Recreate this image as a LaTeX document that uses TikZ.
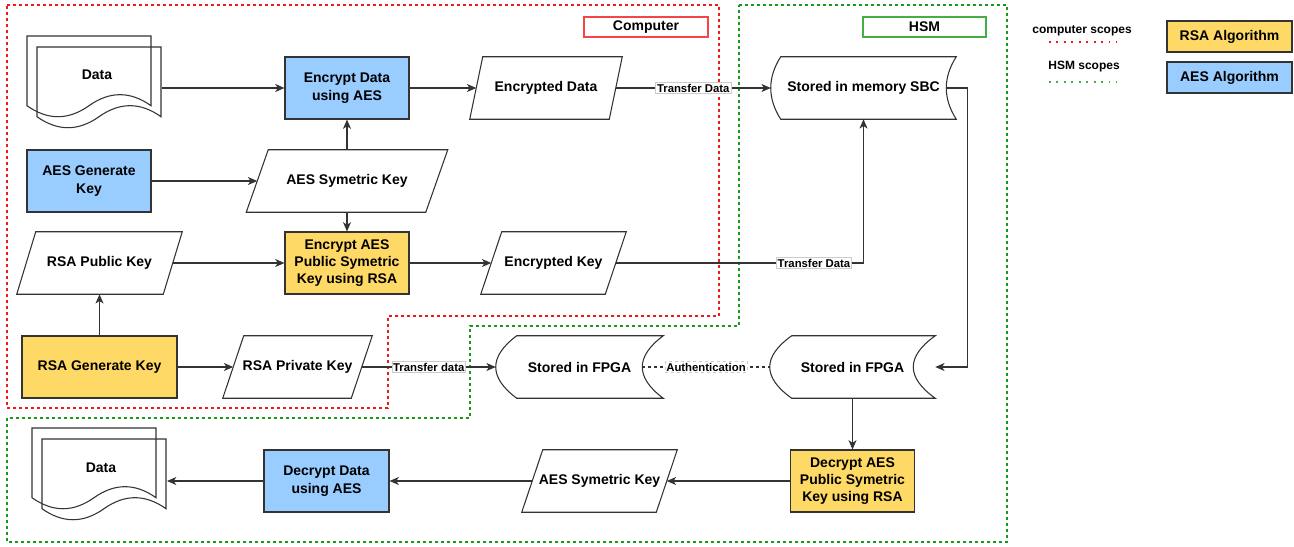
\documentclass[tikz,border=0pt]{standalone}
\usepackage{fontspec}
\setmainfont{Liberation Sans}
\usetikzlibrary{arrows.meta,calc}
\definecolor{aesblue}{HTML}{99CCFF}
\definecolor{rsagold}{HTML}{FFD966}
\definecolor{scopered}{HTML}{F01818}
\definecolor{scopegreen}{HTML}{189A18}
\tikzset{
	txt/.style={font=\bfseries\fontsize{10.5}{13}\selectfont, align=center},
	shapeline/.style={draw=black!80, line width=0.8pt},
	aesbox/.style={txt, shapeline, fill=aesblue, minimum width=93pt, minimum height=46.5pt, inner sep=2pt},
	rsabox/.style={aesbox, fill=rsagold},
	keybox/.style={txt, minimum height=46.5pt, inner sep=1pt},
	storebox/.style={txt, minimum height=46.5pt, inner sep=1pt},
	lbl/.style={fill=white, draw=black!20, line width=0.4pt, inner sep=1pt, font=\bfseries\fontsize{8.5}{10}\selectfont},
	arr/.style={-{Stealth[length=7pt,width=6pt,inset=2pt]}, draw=black!80, line width=0.8pt},
	docpage/.pic={\draw[shapeline] (0,0) -- (124,0) -- (124,69.7) .. controls (103.3,55) and (82.7,55) .. (62,69.7)
		.. controls (41.3,84.4) and (20.7,84.4) .. (0,69.7) -- cycle;}
}
\begin{document}
\begin{tikzpicture}[x=0.75pt,y=-0.75pt]
	\useasboundingbox (0,0) rectangle (1294,546);
	
	% scopes
	\draw[scopered, line width=0.85pt, dash pattern=on 2.25pt off 2.25pt] (7,5) -- (719,5) -- (719,316) -- (388,316)
	-- (388,408) -- (7,408) -- cycle;
	\draw[scopegreen, line width=0.85pt, dash pattern=on 2.25pt off 2.25pt] (739,5) -- (1007,5) -- (1007,542) -- (7,542)
	-- (7,418) -- (470,418) -- (470,326) -- (739,326) -- cycle;
	\node[txt, draw=scopered!80, line width=0.8pt, minimum width=93pt, minimum height=15pt, inner sep=1pt] (compLbl) at (646,27) {Computer};
	\node[txt, draw=scopegreen!80, line width=0.8pt, minimum width=92.25pt, minimum height=15pt, inner sep=1pt] (hsmLbl) at (924.5,27) {HSM};
	
	% documents
	\pic at (27,36) {docpage};
	\pic at (37,47) {docpage};
	\pic at (32,428) {docpage};
	\pic at (42,439) {docpage};
	\node[txt] (dataTop) at (97,75) {Data};
	\node[txt] (dataBot) at (101,468) {Data};
	\coordinate (dataOut) at (162,88);
	\coordinate (dataIn) at (167,481);
	
	% process boxes
	\node[aesbox] (encData) at (347,88) {Encrypt Data\\using AES};
	\node[aesbox] (aesGen) at (89,181) {AES Generate\\Key};
	\node[rsabox] (encKey) at (347,263) {Encrypt AES\\Public Symetric\\Key using RSA};
	\node[rsabox, minimum width=116.25pt] (rsaGen) at (99.5,367) {RSA Generate Key};
	\node[rsabox] (decKey) at (852.5,481) {Decrypt AES\\Public Symetric\\Key using RSA};
	\node[aesbox, minimum width=93.75pt] (decData) at (326.5,481) {Decrypt Data\\using AES};
	
	% data boxes
	\node[keybox, minimum width=134.25pt] (aesKey) at (347,181) {AES Symetric Key};
	\node[keybox, minimum width=104.25pt] (encOut) at (546,88) {Encrypted Data};
	\node[keybox, minimum width=109.5pt] (rsaPub) at (99.5,263) {RSA Public Key};
	\node[keybox, minimum width=96pt] (rsaPriv) at (297.5,367) {RSA Private Key};
	\node[keybox, minimum width=93pt] (encKeyOut) at (553.5,263) {Encrypted Key};
	\node[keybox, minimum width=100.5pt] (aesKey2) at (599.5,481) {AES Symetric Key};
	\foreach \n/\h in {aesKey/8.25pt, encOut/4.875pt, rsaPub/7.125pt, rsaPriv/7.875pt, encKeyOut/7.875pt, aesKey2/7.875pt}
	\draw[shapeline] ([xshift=\h]\n.north west) -- ([xshift=\h]\n.north east) -- ([xshift=-\h]\n.south east)
	-- ([xshift=-\h]\n.south west) -- cycle;
	
	% stored data
	\node[storebox, minimum width=138.75pt] (sbc) at (863.5,88) {Stored in memory SBC};
	\node[storebox, minimum width=125.25pt] (fpgaL) at (579.5,367) {Stored in FPGA};
	\node[storebox, minimum width=123.75pt] (fpgaR) at (852.5,367) {Stored in FPGA};
	\foreach \n/\s in {sbc/7.5pt, fpgaL/15.75pt, fpgaR/16.5pt}
	\draw[shapeline] ([xshift=\s]\n.north west) -- (\n.north east)
	.. controls ($(\n.north east)!2/3!([xshift=-2*\s]\n.east)$) and ($(\n.south east)!2/3!([xshift=-2*\s]\n.east)$) .. (\n.south east)
	-- ([xshift=\s]\n.south west)
	.. controls ($([xshift=\s]\n.south west)!2/3!([xshift=-\s]\n.west)$) and ($([xshift=\s]\n.north west)!2/3!([xshift=-\s]\n.west)$) .. ([xshift=\s]\n.north west) -- cycle;
	
	% connectors
	\draw[arr] (dataOut) -- (encData);
	\draw[arr] (encData) -- (encOut);
	\draw[arr] (encOut) -- node[lbl]{Transfer Data} (sbc);
	\draw[arr] (aesGen) -- (aesKey);
	\draw[arr] (aesKey) -- (encData);
	\draw[arr] (aesKey) -- (encKey);
	\draw[arr] (rsaPub) -- (encKey);
	\draw[arr] (encKey) -- (encKeyOut);
	\draw[arr] (encKeyOut) -| node[lbl, pos=0.4]{Transfer Data} (sbc);
	\draw[arr] (rsaGen) -- (rsaPub);
	\draw[arr] (rsaGen) -- (rsaPriv);
	\draw[arr] (rsaPriv) -- node[lbl]{Transfer data} (fpgaL);
	\draw[draw=black!80, line width=0.8pt, dash pattern=on 2.25pt off 2.25pt] ([xshift=-15.75pt]fpgaL.east)
	-- node[lbl]{Authentication} (fpgaR);
	\draw[arr] ([xshift=-7.5pt]sbc.east) -- ++(16pt,0) |- (fpgaR);
	\draw[arr] (fpgaR) -- (decKey);
	\draw[arr] (decKey) -- (aesKey2);
	\draw[arr] (aesKey2) -- (decData);
	\draw[arr] (decData) -- (dataIn);
	
	% legend
	\node[font=\bfseries\fontsize{9}{10}\selectfont] (legComp) at (1082,31) {computer scopes};
	\draw[scopered, line width=1.3pt, dash pattern=on 1.3pt off 4.3pt] (1049,42) -- (1117,42);
	\node[font=\bfseries\fontsize{9}{10}\selectfont] (legHsm) at (1084,67) {HSM scopes};
	\draw[scopegreen!80, line width=1.3pt, dash pattern=on 1.3pt off 4.3pt] (1049,82) -- (1117,82);
	\node[rsabox, minimum width=93.75pt, minimum height=23.25pt] (legRsa) at (1229.5,36.5) {RSA Algorithm};
	\node[aesbox, minimum width=93.75pt, minimum height=23.25pt] (legAes) at (1229.5,77.5) {AES Algorithm};
\end{tikzpicture}
\end{document}
